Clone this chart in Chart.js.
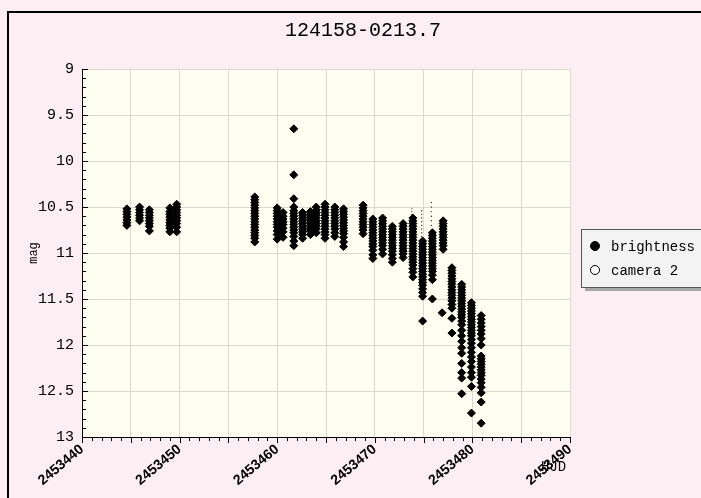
<!DOCTYPE html>
<html>
<head>
<meta charset="utf-8">
<script src="https://cdn.jsdelivr.net/npm/chart.js@4.4.0/dist/chart.umd.min.js"></script>
<style>
  html, body { margin: 0; padding: 0; background: #fdeef3; }
  #wrap { width: 701px; height: 498px; }
</style>
</head>
<body>
<div id="wrap"><canvas id="lc" width="701" height="498"></canvas></div>
<script>
// HJD of each observing night and the magnitudes measured that night
const nightHJD = [
  2453444.6, 2453445.9, 2453446.9, 2453449.0, 2453449.7,
  2453457.7, 2453460.0, 2453460.6, 2453461.7, 2453462.6,
  2453463.4, 2453464.0, 2453464.9, 2453465.9, 2453466.8,
  2453468.8, 2453469.8, 2453470.8, 2453471.8, 2453472.9,
  2453473.9, 2453474.9, 2453475.9, 2453476.9, 2453477.0,
  2453477.9, 2453478.9, 2453479.9, 2453480.9
];
const nightMag = [
  [10.52, 10.55, 10.58, 10.61, 10.64, 10.67, 10.70],
  [10.50, 10.53, 10.56, 10.59, 10.62, 10.65],
  [10.53, 10.56, 10.59, 10.62, 10.65, 10.68, 10.71, 10.76],
  [10.51, 10.55, 10.58, 10.61, 10.64, 10.67, 10.70, 10.73, 10.77],
  [10.47, 10.50, 10.53, 10.56, 10.59, 10.62, 10.65, 10.68, 10.72, 10.77],
  [10.39, 10.42, 10.45, 10.48, 10.51, 10.54, 10.57, 10.60, 10.63, 10.66, 10.69, 10.72, 10.75, 10.78, 10.81, 10.84, 10.88],
  [10.51, 10.54, 10.57, 10.60, 10.63, 10.66, 10.69, 10.72, 10.76, 10.80, 10.85],
  [10.56, 10.60, 10.63, 10.66, 10.69, 10.73, 10.77, 10.83],
  [9.65, 10.15, 10.41, 10.50, 10.54, 10.57, 10.60, 10.63, 10.66, 10.69, 10.72, 10.75, 10.78, 10.82, 10.87, 10.92],
  [10.56, 10.59, 10.62, 10.65, 10.68, 10.71, 10.74, 10.77, 10.80, 10.84],
  [10.55, 10.58, 10.61, 10.64, 10.67, 10.70, 10.73, 10.76, 10.80],
  [10.50, 10.53, 10.56, 10.59, 10.62, 10.65, 10.68, 10.71, 10.74, 10.78],
  [10.47, 10.50, 10.53, 10.56, 10.59, 10.62, 10.65, 10.68, 10.71, 10.74, 10.77, 10.80, 10.84],
  [10.50, 10.53, 10.56, 10.59, 10.62, 10.65, 10.68, 10.71, 10.74, 10.78, 10.82],
  [10.52, 10.55, 10.58, 10.61, 10.64, 10.67, 10.70, 10.73, 10.76, 10.79, 10.83, 10.88, 10.93],
  [10.48, 10.51, 10.54, 10.57, 10.60, 10.63, 10.66, 10.69, 10.72, 10.75, 10.79],
  [10.63, 10.66, 10.69, 10.72, 10.75, 10.78, 10.81, 10.84, 10.87, 10.90, 10.93, 10.97, 11.02, 11.06],
  [10.62, 10.65, 10.68, 10.71, 10.74, 10.77, 10.80, 10.83, 10.86, 10.89, 10.92, 10.96, 11.01],
  [10.71, 10.74, 10.77, 10.80, 10.83, 10.86, 10.89, 10.92, 10.95, 10.98, 11.02, 11.06, 11.10],
  [10.68, 10.71, 10.74, 10.77, 10.80, 10.83, 10.86, 10.89, 10.92, 10.95, 10.98, 11.01, 11.05],
  [10.62, 10.65, 10.68, 10.71, 10.74, 10.77, 10.80, 10.83, 10.86, 10.89, 10.92, 10.95, 10.98, 11.01, 11.04, 11.07, 11.10, 11.13, 11.17, 11.21, 11.26],
  [10.87, 10.90, 10.93, 10.96, 10.99, 11.02, 11.05, 11.08, 11.11, 11.14, 11.17, 11.20, 11.23, 11.26, 11.29, 11.32, 11.35, 11.39, 11.43, 11.47, 11.74],
  [10.78, 10.81, 10.84, 10.87, 10.90, 10.93, 10.96, 10.99, 11.02, 11.05, 11.08, 11.11, 11.14, 11.17, 11.20, 11.24, 11.29, 11.50],
  [11.65],
  [10.65, 10.68, 10.71, 10.74, 10.77, 10.80, 10.83, 10.86, 10.89, 10.92, 10.96],
  [11.16, 11.19, 11.22, 11.25, 11.28, 11.31, 11.34, 11.37, 11.40, 11.43, 11.46, 11.49, 11.52, 11.56, 11.60, 11.71, 11.87],
  [11.34, 11.37, 11.40, 11.43, 11.46, 11.49, 11.52, 11.55, 11.58, 11.61, 11.64, 11.67, 11.70, 11.74, 11.78, 11.84, 11.90, 11.96, 12.03, 12.09, 12.20, 12.30, 12.36, 12.53],
  [11.54, 11.57, 11.60, 11.63, 11.66, 11.69, 11.72, 11.75, 11.78, 11.81, 11.84, 11.87, 11.90, 11.94, 11.98, 12.03, 12.08, 12.13, 12.18, 12.24, 12.30, 12.35, 12.45, 12.74],
  [11.68, 11.72, 11.76, 11.80, 11.84, 11.88, 11.93, 12.00, 12.12, 12.15, 12.18, 12.21, 12.24, 12.27, 12.30, 12.33, 12.37, 12.41, 12.46, 12.52, 12.62, 12.85]
];
// faint dots above the columns of nights 2453473.9 .. 2453475.9
const faintHJD = [2453473.8, 2453474.8, 2453475.8];
const faintMag = [
  [10.52, 10.55, 10.58],
  [10.54, 10.58, 10.62, 10.66, 10.70, 10.74, 10.78, 10.82],
  [10.45, 10.50, 10.55, 10.60, 10.65, 10.70]
];
// camera 2 has no points in this window
const cam2HJD = [];
const cam2Mag = [];

const xMin = 2453440, xMax = 2453490;
const yMin = 9, yMax = 13;

const toPoints = (hjd, mags) => hjd.flatMap((t, i) => mags[i].map(m => ({ x: t, y: m })));

const mono = 'Liberation Mono, DejaVu Sans Mono, monospace';

const framePlugin = {
  id: 'frame',
  beforeDraw(chart) {
    const ctx = chart.ctx, a = chart.chartArea;
    ctx.save();
    ctx.fillStyle = '#fdeef3';
    ctx.fillRect(0, 0, chart.width, chart.height);
    ctx.fillStyle = '#fffff1';
    ctx.fillRect(a.left, a.top, a.right - a.left, a.bottom - a.top);
    ctx.strokeStyle = '#000';
    ctx.lineWidth = 2;
    ctx.strokeRect(8, 12, 1000, 1000);
    ctx.restore();
  },
  afterDraw(chart) {
    const ctx = chart.ctx, a = chart.chartArea;
    const xs = chart.scales.x, ys = chart.scales.y;
    ctx.save();
    ctx.strokeStyle = '#000';
    ctx.lineWidth = 1;
    ctx.beginPath();
    // minor / major ticks on y (inward)
    for (let i = 0; i <= 40; i++) {
      const py = Math.round(ys.getPixelForValue(yMin + i * 0.1)) + 0.5;
      const len = i % 5 === 0 ? 6 : 4;
      ctx.moveTo(a.left, py);
      ctx.lineTo(a.left + len, py);
    }
    // ticks on x (outward)
    for (let d = 0; d <= 50; d++) {
      const px = Math.round(xs.getPixelForValue(xMin + d)) + 0.5;
      const len = d % 5 === 0 ? 6 : 4;
      ctx.moveTo(px, a.bottom);
      ctx.lineTo(px, a.bottom + len);
    }
    ctx.stroke();

    ctx.fillStyle = '#000';
    // title
    ctx.font = '20px ' + mono;
    ctx.textAlign = 'center';
    ctx.textBaseline = 'middle';
    ctx.fillText('124158-0213.7', 363, 31);

    // axis titles
    ctx.font = '12px ' + mono;
    ctx.save();
    ctx.translate(34, (a.top + a.bottom) / 2);
    ctx.rotate(-Math.PI / 2);
    ctx.fillText('mag', 0, 0);
    ctx.restore();
    ctx.font = '14px ' + mono;
    ctx.textAlign = 'left';
    ctx.fillText('HJD', 541, 467);

    // legend box
    const lx = 581, ly = 229, lw = 140, lh = 58;
    ctx.fillStyle = '#a8a8a8';
    ctx.fillRect(lx + 4, ly + 4, lw, lh);
    ctx.fillStyle = '#f3f3f3';
    ctx.fillRect(lx, ly, lw, lh);
    ctx.strokeStyle = '#555';
    ctx.strokeRect(lx + 0.5, ly + 0.5, lw, lh);
    const items = chart.data.datasets.filter(d => d.inLegend);
    items.forEach((d, i) => {
      const cy = ly + 17 + i * 24;
      ctx.beginPath();
      ctx.arc(595, cy, 4.5, 0, Math.PI * 2);
      ctx.fillStyle = d.legendFill;
      ctx.fill();
      ctx.strokeStyle = '#000';
      ctx.lineWidth = 1;
      ctx.stroke();
      ctx.fillStyle = '#000';
      ctx.font = '14px ' + mono;
      ctx.textAlign = 'left';
      ctx.textBaseline = 'middle';
      ctx.fillText(d.label, 611, cy + 1);
    });
    ctx.restore();
  }
};

new Chart(document.getElementById('lc'), {
  type: 'scatter',
  data: {
    datasets: [
      {
        label: 'brightness',
        data: toPoints(nightHJD, nightMag),
        pointStyle: 'rectRot',
        pointRadius: 4,
        backgroundColor: '#000',
        borderColor: '#000',
        borderWidth: 1,
        inLegend: true,
        legendFill: '#000'
      },
      {
        label: 'camera 2',
        data: toPoints(cam2HJD, cam2Mag),
        pointStyle: 'circle',
        pointRadius: 4,
        backgroundColor: '#fff',
        borderColor: '#000',
        borderWidth: 1,
        inLegend: true,
        legendFill: '#fff'
      },
      {
        label: 'faint',
        data: toPoints(faintHJD, faintMag),
        pointStyle: 'circle',
        pointRadius: 0.7,
        backgroundColor: '#333',
        borderWidth: 0,
        inLegend: false
      }
    ]
  },
  options: {
    responsive: false,
    animation: false,
    events: [],
    layout: { padding: { left: 0, right: 131, top: 69, bottom: 0 } },
    plugins: {
      legend: { display: false },
      tooltip: { enabled: false },
      title: { display: false }
    },
    scales: {
      x: {
        type: 'linear',
        min: xMin,
        max: xMax,
        afterFit: s => { s.height = 61; },
        border: { color: '#000', width: 1 },
        grid: { color: '#d9d9cf', drawTicks: false },
        ticks: {
          stepSize: 5,
          autoSkip: false,
          minRotation: 40,
          maxRotation: 40,
          padding: 4,
          color: '#000',
          font: { family: 'Liberation Sans, Arial, sans-serif', size: 14, weight: 'bold' },
          callback: v => (v % 10 === 0 ? String(v) : '')
        }
      },
      y: {
        type: 'linear',
        reverse: true,
        min: yMin,
        max: yMax,
        afterFit: s => { s.width = 82; },
        border: { color: '#000', width: 1 },
        grid: { color: '#d9d9cf', drawTicks: false },
        ticks: {
          stepSize: 0.5,
          padding: 8,
          color: '#000',
          font: { family: mono, size: 15 },
          callback: v => String(v)
        }
      }
    }
  },
  plugins: [framePlugin]
});
</script>
</body>
</html>
